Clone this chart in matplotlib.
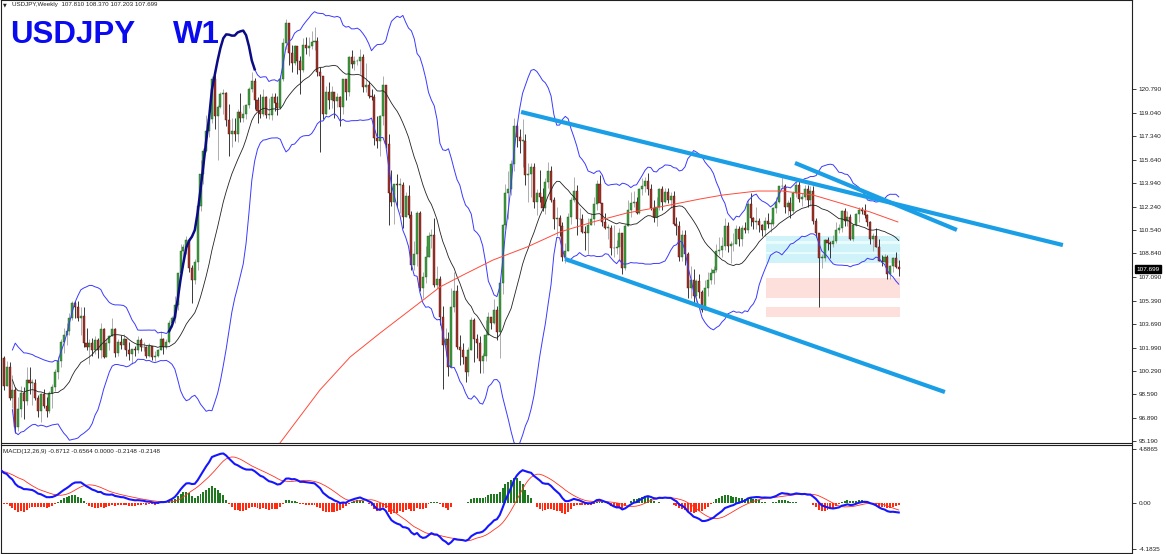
import numpy as np
import pandas as pd
import matplotlib
matplotlib.use("Agg")
import matplotlib.pyplot as plt
from matplotlib.transforms import blended_transform_factory

plt.rcParams['font.family'] = ['Liberation Sans', 'DejaVu Sans']

# weekly USDJPY (open of a week = previous close)
first_open = 99.2
closes = [
    101.2, 99.2, 100.6, 98.3, 98.9, 96.2, 97.5, 98.7, 98.1, 99.6,
    99.4, 99.4, 98.3, 97.4, 98.6, 97.7, 97.4, 98.7, 99.1, 100.2,
    101.0, 102.4, 102.9, 103.2, 104.1, 105.2, 104.9, 104.1, 104.3, 102.3,
    102.0, 102.3, 101.8, 102.5, 101.8, 103.3, 101.3, 102.3, 102.8, 103.3,
    101.6, 102.4, 102.2, 102.6, 101.8, 101.5, 101.9, 101.8, 102.5, 102.0,
    102.0, 101.4, 102.1, 101.3, 101.4, 101.8, 102.6, 102.0, 102.4, 103.8,
    104.1, 105.1, 107.4, 109.0, 109.3, 109.8, 107.8, 106.9, 108.2, 112.3,
    114.6, 116.3, 117.7, 118.6, 121.5, 118.8, 119.5, 120.4, 120.5, 118.5,
    117.5, 117.7, 117.5, 119.1, 118.7, 119.0, 119.6, 120.8, 121.4, 120.0,
    119.2, 119.0, 120.2, 118.9, 118.9, 120.2, 119.8, 119.4, 121.5, 124.1,
    125.6, 123.4, 122.7, 123.9, 122.8, 122.2, 124.0, 123.8, 123.9, 124.2,
    124.3, 122.0, 121.7, 119.0, 120.6, 120.0, 120.6, 119.9, 120.2, 119.5,
    121.5, 120.6, 123.1, 122.6, 122.8, 122.8, 123.1, 120.9, 121.1, 120.3,
    120.2, 117.2, 117.0, 118.8, 121.1, 116.8, 113.2, 112.6, 113.9, 113.8,
    113.8, 111.5, 113.0, 111.6, 108.0, 108.8, 111.8, 106.3, 107.1, 108.6,
    110.1, 110.2, 106.5, 107.0, 104.2, 102.2, 102.6, 100.6, 104.9, 106.1,
    102.0, 101.8, 101.3, 100.2, 101.8, 104.0, 102.6, 102.3, 101.0, 101.4,
    102.9, 104.2, 103.8, 104.7, 103.1, 106.7, 110.9, 113.2, 113.5, 115.3,
    118.1, 117.3, 117.0, 117.0, 114.5, 114.6, 115.1, 112.6, 113.2, 112.9,
    112.1, 114.0, 114.8, 112.7, 111.3, 111.4, 110.8, 108.6, 109.0, 111.5,
    112.7, 113.4, 111.3, 111.3, 110.4, 110.3, 110.9, 111.3, 112.4, 113.9,
    112.5, 111.1, 110.7, 110.7, 109.2, 109.2, 109.3, 110.3, 107.8, 110.8,
    112.0, 112.5, 112.6, 111.8, 113.5, 113.7, 114.1, 113.5, 112.1, 111.5,
    112.2, 113.5, 112.6, 113.3, 112.7, 113.0, 111.0, 110.8, 108.6, 110.2,
    108.8, 106.3, 106.9, 105.7, 106.8, 106.0, 104.7, 106.3, 106.9, 107.4,
    107.6, 109.0, 109.1, 109.4, 110.8, 109.4, 109.5, 109.5, 110.6, 109.9,
    110.7, 110.5, 112.4, 111.4, 111.1, 111.2, 110.9, 110.5, 111.2, 111.0,
    111.0, 112.1, 112.6, 113.7, 113.7, 112.2, 112.5, 111.9, 113.2, 113.8,
    112.8, 112.9, 113.5, 112.7, 113.4, 111.2, 110.3, 108.5, 108.5, 109.8,
    109.6, 109.5, 109.7, 110.5, 110.7, 111.9, 111.2, 111.5, 109.9, 110.9,
    111.7, 112.0, 111.9, 111.6, 111.1, 109.9, 110.1, 109.3, 108.3, 108.2,
    108.6, 107.3, 107.9, 108.5, 107.81, 107.699,
]
highs = [
    101.5, 101.4, 101.0, 100.9, 100.0, 99.1, 98.4, 99.2, 99.1, 100.6,
    100.6, 99.7, 99.7, 98.5, 98.7, 99.0, 98.4, 98.8, 99.3, 100.4,
    101.4, 102.6, 103.4, 103.8, 104.5, 105.4, 105.4, 105.4, 104.9, 104.9,
    103.4, 102.6, 102.7, 102.8, 102.7, 103.8, 103.4, 102.7, 102.9, 104.1,
    103.4, 102.6, 102.9, 103.0, 102.2, 102.4, 101.9, 102.1, 102.8, 102.7,
    102.4, 102.1, 102.3, 102.1, 101.7, 101.9, 103.2, 102.7, 102.6, 104.0,
    104.3, 105.7, 107.4, 109.5, 109.5, 110.1, 109.1, 108.0, 108.4, 112.5,
    115.6, 116.5, 118.9, 118.9, 121.7, 121.8, 119.6, 120.6, 120.8, 120.6,
    119.7, 118.7, 118.7, 119.3, 120.5, 119.6, 119.7, 120.9, 122.0, 121.6,
    120.2, 120.4, 120.8, 120.3, 120.1, 120.5, 120.5, 120.3, 121.8, 124.5,
    125.9, 125.0, 124.0, 124.0, 123.8, 123.2, 124.5, 124.6, 124.6, 125.0,
    125.3, 124.6, 122.4, 121.4, 121.0, 121.3, 121.0, 120.6, 120.5, 120.3,
    121.5, 121.3, 123.2, 123.6, 123.2, 123.0, 123.7, 123.3, 122.7, 121.4,
    120.8, 120.4, 118.8, 118.9, 121.7, 121.0, 117.5, 114.9, 113.9, 114.6,
    114.3, 114.0, 113.3, 113.8, 111.9, 109.7, 111.9, 111.9, 107.5, 109.4,
    110.4, 110.6, 111.4, 107.9, 107.2, 105.0, 103.4, 103.1, 106.3, 107.5,
    106.5, 102.9, 102.3, 101.2, 102.0, 104.2, 104.1, 103.0, 102.8, 101.6,
    104.0, 104.6, 104.2, 105.5, 105.0, 106.9, 111.0, 113.9, 114.8, 115.6,
    118.7, 118.3, 117.9, 118.6, 117.5, 115.4, 115.4, 115.4, 113.5, 114.9,
    113.6, 114.3, 115.5, 115.2, 112.9, 112.2, 111.6, 111.1, 109.6, 111.8,
    112.9, 114.4, 113.8, 112.1, 111.7, 110.8, 111.4, 111.8, 112.9, 114.2,
    114.5, 112.4, 111.8, 111.0, 110.9, 110.9, 109.8, 110.7, 110.3, 111.0,
    112.7, 113.3, 113.4, 112.9, 113.6, 114.3, 114.4, 114.7, 113.9, 112.7,
    112.9, 113.6, 113.7, 113.6, 113.6, 113.3, 113.4, 111.5, 111.2, 110.5,
    110.5, 108.9, 107.9, 107.7, 107.0, 107.3, 106.2, 106.9, 107.5, 107.8,
    107.9, 109.5, 110.0, 110.0, 111.4, 111.1, 109.7, 110.3, 110.9, 110.8,
    110.9, 111.1, 112.8, 113.2, 111.5, 112.2, 111.4, 111.0, 111.5, 111.8,
    111.3, 112.2, 112.9, 113.7, 114.55, 113.9, 112.7, 112.9, 113.4, 114.1,
    114.2, 113.2, 113.8, 113.8, 113.7, 113.7, 111.4, 110.0, 108.8, 109.9,
    110.0, 109.7, 110.2, 111.1, 111.0, 112.0, 112.1, 111.9, 111.7, 111.0,
    111.8, 112.2, 112.2, 112.4, 111.7, 111.2, 110.3, 110.7, 109.9, 108.7,
    108.8, 108.7, 108.0, 108.6, 108.9, 108.37,
]
lows = [
    99.1, 98.9, 99.2, 98.2, 97.6, 95.8, 95.9, 96.9, 96.8, 97.8,
    98.6, 97.8, 98.2, 96.9, 96.6, 97.6, 96.9, 97.2, 97.6, 98.8,
    99.7, 100.6, 101.6, 102.2, 102.9, 104.0, 104.1, 103.9, 102.9, 102.0,
    101.8, 100.8, 101.4, 101.5, 101.2, 101.2, 101.2, 101.3, 101.8, 102.8,
    101.3, 101.4, 101.9, 101.9, 101.4, 101.1, 100.8, 101.4, 101.6, 101.7,
    101.7, 101.2, 101.3, 101.1, 101.0, 101.3, 101.8, 101.5, 101.9, 102.3,
    103.5, 103.8, 104.7, 107.1, 108.3, 108.8, 107.5, 105.2, 106.6, 107.6,
    111.9, 113.9, 116.2, 117.3, 118.3, 117.9, 115.6, 119.4, 119.0, 118.1,
    115.9, 116.6, 117.0, 116.9, 118.4, 118.4, 118.6, 119.4, 120.6, 119.3,
    118.3, 118.7, 118.8, 118.7, 118.6, 118.5, 119.2, 118.9, 119.3, 121.4,
    123.7, 122.5, 122.0, 122.5, 121.9, 120.4, 122.0, 123.3, 123.2, 123.7,
    123.6, 121.7, 116.2, 118.6, 118.9, 119.3, 119.4, 118.7, 119.5, 118.1,
    119.0, 120.0, 120.3, 122.3, 122.2, 122.5, 121.9, 120.6, 120.6, 120.1,
    120.0, 116.7, 116.5, 115.9, 118.2, 116.5, 110.9, 112.3, 111.0, 112.2,
    111.8, 110.7, 111.6, 111.4, 107.6, 107.6, 107.9, 106.1, 105.6, 106.7,
    108.7, 109.2, 106.4, 106.3, 103.6, 99.0, 101.4, 99.9, 100.6, 104.6,
    101.9, 100.7, 100.8, 99.5, 99.9, 101.8, 100.9, 101.2, 100.1, 100.1,
    101.0, 102.9, 103.3, 103.7, 102.5, 101.2, 105.9, 110.6, 111.3, 113.1,
    114.8, 116.6, 116.1, 115.1, 113.8, 112.6, 112.9, 112.1, 111.6, 112.6,
    111.9, 111.7, 113.6, 112.6, 110.6, 110.1, 110.1, 108.3, 108.1, 109.2,
    111.0, 112.6, 110.2, 110.8, 110.3, 109.1, 108.8, 110.9, 110.9, 112.0,
    112.5, 110.8, 110.6, 109.9, 108.7, 108.6, 108.8, 108.3, 107.3, 107.6,
    110.8, 111.5, 112.2, 111.7, 111.7, 113.1, 113.3, 113.1, 112.0, 111.1,
    110.8, 112.0, 112.0, 112.5, 112.5, 112.1, 110.9, 110.2, 108.3, 108.3,
    108.0, 105.6, 105.6, 105.2, 105.3, 105.6, 104.6, 104.7, 105.7, 106.6,
    106.6, 107.5, 108.7, 108.6, 109.1, 108.9, 108.1, 109.0, 109.5, 109.4,
    109.4, 110.3, 110.3, 110.8, 110.6, 110.6, 110.4, 110.1, 110.1, 110.7,
    110.4, 110.8, 111.8, 112.5, 113.5, 111.8, 111.6, 111.4, 111.8, 112.9,
    112.6, 112.3, 112.7, 112.2, 112.3, 111.0, 110.0, 104.9, 107.8, 108.3,
    109.1, 108.5, 109.3, 109.6, 110.3, 110.4, 110.8, 110.8, 109.8, 109.7,
    110.8, 111.1, 111.7, 111.4, 110.8, 109.5, 109.0, 109.3, 108.3, 107.9,
    108.0, 107.0, 107.0, 107.5, 107.8, 107.203,
]

# EMA(12) / EMA(26) levels going into the first bar, so MACD starts where the panel shows it
ema_seed = (99.0, 96.0)

# 200-week SMA (red), read as points: bar index / price
ma200_bars = [97.9, 111.9, 122.5, 133.0, 148.1, 154.0, 162.1, 172.6, 184.6, 196.1,
              207.7, 219.6, 231.2, 245.3, 253.3, 265.3, 274.4, 284.9, 294.4, 304.9, 314.7]
ma200_vals = [95.05, 98.9, 101.3, 103.04, 105.44, 106.39, 107.26, 108.35, 109.30, 110.39,
              111.12, 111.77, 112.21, 112.79, 113.08, 113.37, 113.37, 113.08, 112.50, 111.85, 111.12]

# hand-drawn trend lines (start/end bar, start/end price)
trend_bars = [(182.5, 372.6), (197.9, 331.2), (278.6, 335.4)]
trend_prices = [(119.12, 109.44), (108.43, 98.75), (115.41, 110.54)]

# supply / demand boxes
zone_bars = (268.4, 315.6)
cyan_outer = (108.11, 110.07)
cyan_zones = [(109.70, 110.07), (108.96, 109.54), (108.11, 108.79)]
pink_zones = [(105.57, 107.02), (104.19, 104.96)]

price_ticks = [120.790, 119.040, 117.340, 115.640, 113.940, 112.240, 110.540, 108.840,
               107.090, 105.390, 103.690, 101.990, 100.290, 98.590, 96.890, 95.190]
macd_ticks = [4.8865, 0.0, -4.1835]
macd_tick_labels = ["4.8865", "0.00", "-4.1835"]
last_price = 107.699


def ema(values, span, seed):
    k = 2.0 / (span + 1)
    out, e = [], seed
    for v in values:
        e = e + k * (v - e)
        out.append(e)
    return np.array(out)


# ---------------------------------------------------------------- indicators
c = np.array(closes)
o = np.array([first_open] + closes[:-1])
h = np.maximum(np.array(highs), np.maximum(o, c))
l = np.minimum(np.array(lows), np.minimum(o, c))
idx = np.arange(len(c))

s = pd.Series(c)
mid = s.rolling(20, min_periods=5).mean()
sd = s.rolling(20, min_periods=5).std(ddof=0)
upper = mid + 2 * sd
lower = mid - 2 * sd

macd = pd.Series(ema(c, 12, ema_seed[0]) - ema(c, 26, ema_seed[1]))
signal = macd.rolling(9, min_periods=1).mean()
hist = macd - signal

# ---------------------------------------------------------------- layout
W, H = 1166, 554
fig = plt.figure(figsize=(W / 100, H / 100), dpi=100)
ax = fig.add_axes([0.5 / W, 1 - 442.5 / H, 1131.5 / W, 442.5 / H])
mx = fig.add_axes([0.5 / W, 1 / H, 1131.5 / W, (553 - 444.5) / H])

px_per_bar = 2.85
xlim = ((0.5 - 1) / px_per_bar, (1132 - 1) / px_per_bar)
for a in (ax, mx):
    a.set_xlim(*xlim)
    a.set_xticks([])
    for sp in a.spines.values():
        sp.set_color("#202020")
        sp.set_linewidth(0.8)
    a.yaxis.tick_right()
    a.tick_params(axis="y", length=3, width=0.6, labelsize=4.6, pad=2,
                  colors="#202020")

ax.set_ylim(95.19 - 1.5 / 13.75, 95.19 + 441 / 13.75)
ax.set_yticks(price_ticks)
ax.set_yticklabels([f"{t:.3f}" for t in price_ticks])

# zones
ax.fill_between(zone_bars, *cyan_outer, color="#e8fbfd", lw=0, zorder=0)
for lo_, hi_ in cyan_zones:
    ax.fill_between(zone_bars, lo_, hi_, color="#d0f3fa", lw=0, zorder=0)
for lo_, hi_ in pink_zones:
    ax.fill_between(zone_bars, lo_, hi_, color="#fde0dc", lw=0, zorder=0)

# candles
up = c >= o
ax.vlines(idx[up], l[up], h[up], color="#a0a0a0", lw=0.6, zorder=2)
ax.vlines(idx[~up], l[~up], h[~up], color="#1a1a1a", lw=0.6, zorder=2)
body_lo = np.minimum(o, c)
body_h = np.maximum(np.abs(c - o), 0.05)
ax.bar(idx[up], body_h[up], bottom=body_lo[up], width=0.72, color="#3f9c3f",
       edgecolor="#1d5e1d", linewidth=0.3, zorder=2)
ax.bar(idx[~up], body_h[~up], bottom=body_lo[~up], width=0.72, color="#a0352a",
       edgecolor="#5c0b0b", linewidth=0.3, zorder=2)

# bollinger / MAs
ax.plot(idx, upper, color="#3a3aff", lw=0.7, zorder=3)
ax.plot(idx, lower, color="#3a3aff", lw=0.7, zorder=3)
ax.plot(idx[59:90], upper[59:90], color="#0b0b85", lw=1.8, zorder=3)
ax.plot(idx, mid, color="#222222", lw=0.6, zorder=3)
ax.plot(ma200_bars, ma200_vals, color="#ff4a3a", lw=0.7, zorder=3)

# trend lines
for xs, ys in zip(trend_bars, trend_prices):
    ax.plot(xs, ys, color="#1a9fe6", lw=3.0, solid_capstyle="butt", zorder=4)

# current price tag
tr = blended_transform_factory(ax.transAxes, ax.transData)
ax.text(1.004, last_price, f"{last_price:.3f}", transform=tr, fontsize=4.6,
        color="white", va="center", ha="left", zorder=5,
        bbox=dict(boxstyle="square,pad=0.25", fc="black", ec="black"))

# MACD panel
mx.set_ylim(4.8865 - (553 - 449) * 0.0907, 4.8865 + (449 - 444.5) * 0.0907)
mx.set_yticks(macd_ticks)
mx.set_yticklabels(macd_tick_labels)
mx.bar(idx, hist, width=0.7, color=np.where(hist >= 0, "#1f7a1f", "#ff2a10"),
       linewidth=0, zorder=2)
mx.plot(idx, signal, color="#ff3020", lw=0.6, zorder=3)
mx.plot(idx, macd, color="#1515ff", lw=1.5, zorder=4)

# texts
fig.text(2.5 / W, 1 - 4.5 / H, "\u25bc", fontsize=3.5, va="center",
         family=["DejaVu Sans"], color="#202020")
fig.text(12 / W, 1 - 4.5 / H, "USDJPY,Weekly  107.810 108.370 107.203 107.699",
         fontsize=4.5, va="center", color="#202020")
fig.text(10 / W, 1 - 43 / H, "USDJPY", fontsize=22.5, weight="bold",
         color="#0a0af0", va="baseline")
fig.text(173 / W, 1 - 43 / H, "W1", fontsize=22.5, weight="bold",
         color="#0a0af0", va="baseline")
fig.text(3 / W, 1 - 452 / H, "MACD(12,26,9) -0.8712 -0.6564 0.0000 -0.2148 -0.2148",
         fontsize=4.5, va="center", color="#202020")

fig.savefig("out.png", dpi=100)
